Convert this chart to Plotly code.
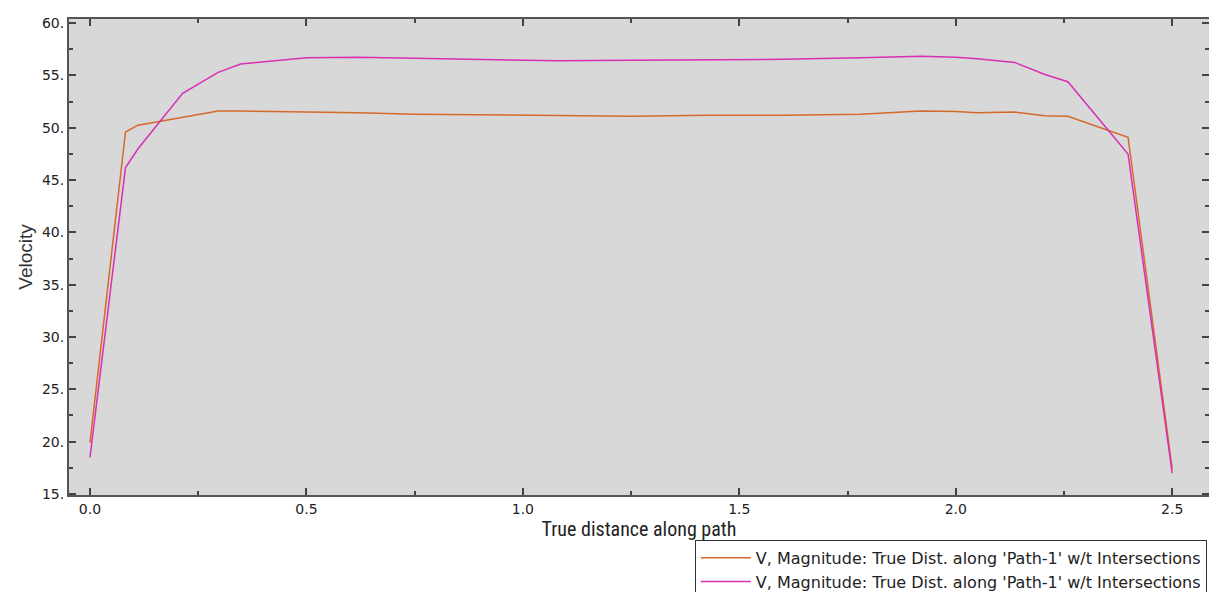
import plotly.graph_objects as go

x_dist = [0.0, 0.082, 0.111, 0.214, 0.296, 0.348, 0.5, 0.62, 0.75, 0.9, 1.08, 1.25,
          1.43, 1.6, 1.78, 1.92, 2.0, 2.05, 2.136, 2.206, 2.259, 2.398, 2.5]
v_orange = [19.9, 49.6, 50.25, 51.0, 51.6, 51.6, 51.55, 51.45, 51.3, 51.25, 51.2, 51.1,
            51.2, 51.2, 51.3, 51.6, 51.55, 51.45, 51.5, 51.15, 51.1, 49.1, 17.4]
v_magenta = [18.5, 46.2, 48.0, 53.3, 55.3, 56.1, 56.7, 56.75, 56.65, 56.55, 56.4, 56.45,
             56.5, 56.55, 56.7, 56.85, 56.75, 56.6, 56.25, 55.1, 54.4, 47.5, 17.0]
legend_name = "V, Magnitude: True Dist. along 'Path-1' w/t Intersections"
x_ticks = [0.0, 0.5, 1.0, 1.5, 2.0, 2.5]
x_ticktext = ["0.0", "0.5", "1.0", "1.5", "2.0", "2.5"]
y_ticks = [15, 20, 25, 30, 35, 40, 45, 50, 55, 60]
y_ticktext = ["15.", "20.", "25.", "30.", "35.", "40.", "45.", "50.", "55.", "60."]

fig = go.Figure()
fig.add_trace(go.Scatter(x=x_dist, y=v_orange, mode="lines", name=legend_name,
                         line=dict(color="#d4692a", width=1.5)))
fig.add_trace(go.Scatter(x=x_dist, y=v_magenta, mode="lines", name=legend_name,
                         line=dict(color="#d92fb4", width=1.5)))

axis_common = dict(
    showgrid=False, zeroline=False, showline=True, linecolor="#555555", linewidth=2,
    mirror="allticks", ticks="inside", ticklen=7, tickwidth=2, tickcolor="#444444",
    tickfont=dict(family="DejaVu Sans", size=14, color="#222222"),
)

fig.update_xaxes(**axis_common, range=[-0.0485, 2.585], tickvals=x_ticks, ticktext=x_ticktext,
                 minor=dict(ticks="inside", ticklen=4, tickwidth=2, tickcolor="#444444", dtick=0.25, tick0=0),
                 title=dict(text="True distance along path", standoff=2,
                            font=dict(family="Liberation Sans Narrow, Roboto Condensed, Liberation Sans", size=20, color="#222222")))
fig.update_yaxes(**axis_common, range=[14.9, 60.4], tickvals=y_ticks, ticktext=y_ticktext,
                 minor=dict(ticks="inside", ticklen=4, tickwidth=2, tickcolor="#444444", dtick=2.5, tick0=0),
                 title=dict(text="Velocity", standoff=4,
                            font=dict(family="Liberation Sans, Arial", size=19, color="#333333")))

fig.update_layout(
    width=1209, height=592,
    margin=dict(l=69, r=0, t=19, b=97, autoexpand=False),
    paper_bgcolor="white", plot_bgcolor="#d8d8d8",
    showlegend=True,
    legend=dict(x=0.549, xanchor="left", y=-0.094, yanchor="top",
                bgcolor="white", bordercolor="#333333", borderwidth=1, itemwidth=50,
                font=dict(family="DejaVu Sans", size=16, color="#222222")),
)

fig.write_html("out.html")
